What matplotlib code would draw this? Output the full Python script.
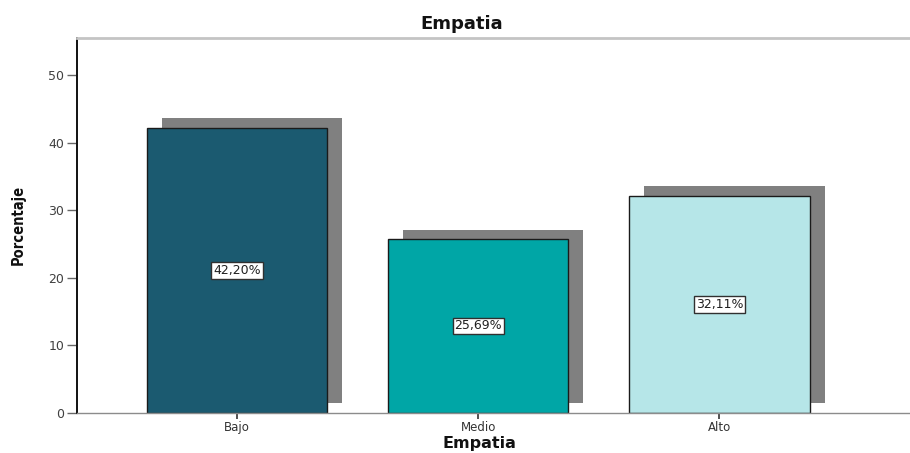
import matplotlib
matplotlib.use("Agg")
import matplotlib.pyplot as plt

# data
categories = ["Bajo", "Medio", "Alto"]
percentages = [42.20, 25.69, 32.11]
value_labels = ["42,20%", "25,69%", "32,11%"]
bar_colors = ["#1b5a70", "#00a6a6", "#b6e6e8"]
y_ticks = [0, 10, 20, 30, 40, 50]

fig = plt.figure(figsize=(9.1, 4.53), dpi=100)
ax = fig.add_axes([0.0843, 0.089, 0.9157, 0.8278])

x = list(range(len(categories)))
width = 0.747
# shadow offset (data units)
dx, dy = 0.062, 1.4

# drop shadows first
ax.bar([i + dx for i in x], percentages, width=width, bottom=dy,
       color="#808080", edgecolor="none", zorder=1)
ax.bar(x, percentages, width=width, color=bar_colors,
       edgecolor="#1a1a1a", linewidth=1.0, zorder=2)

for i, (v, lab) in enumerate(zip(percentages, value_labels)):
    ax.text(i, v / 2, lab, ha="center", va="center", fontsize=9,
            color="#202020", zorder=3,
            bbox=dict(boxstyle="square,pad=0.15", facecolor="white",
                      edgecolor="#303030", linewidth=1.0))

ax.set_xlim(-0.665, 2.79)
ax.set_ylim(0, 55.55)
ax.set_yticks(y_ticks)
ax.set_xticks(x)
ax.set_xticklabels(categories)

ax.spines["right"].set_visible(False)
ax.spines["left"].set_color("#111111")
ax.spines["left"].set_linewidth(1.4)
ax.spines["bottom"].set_color("#8c8c8c")
ax.spines["bottom"].set_linewidth(1.0)
ax.spines["top"].set_color("#c4c4c4")
ax.spines["top"].set_linewidth(2.0)

ax.tick_params(axis="y", length=7.5, width=1.0, color="#666666",
               labelsize=9, labelcolor="#404040", pad=1.5)
ax.tick_params(axis="x", length=4, width=1.2, color="#333333",
               labelsize=8.5, labelcolor="#333333", pad=2)

ax.set_ylabel("Porcentaje", fontsize=10.5, fontweight="bold", color="#111111",
              fontstretch="condensed",
              family=["DejaVu Sans", "Liberation Sans Narrow"])
ax.yaxis.set_label_coords(-0.061, 0.5)

# x axis title sits under the middle bar, near the bottom edge
fig.text(479 / 910, 1 - 448 / 453, "Empatia", ha="center", va="baseline",
         fontsize=11.5, fontweight="bold", color="#111111")

fig.text(462 / 910, 1 - 24 / 453, "Empatia", ha="center", va="center",
         fontsize=13, fontweight="bold", color="#111111")

fig.savefig("out.png", dpi=100)
